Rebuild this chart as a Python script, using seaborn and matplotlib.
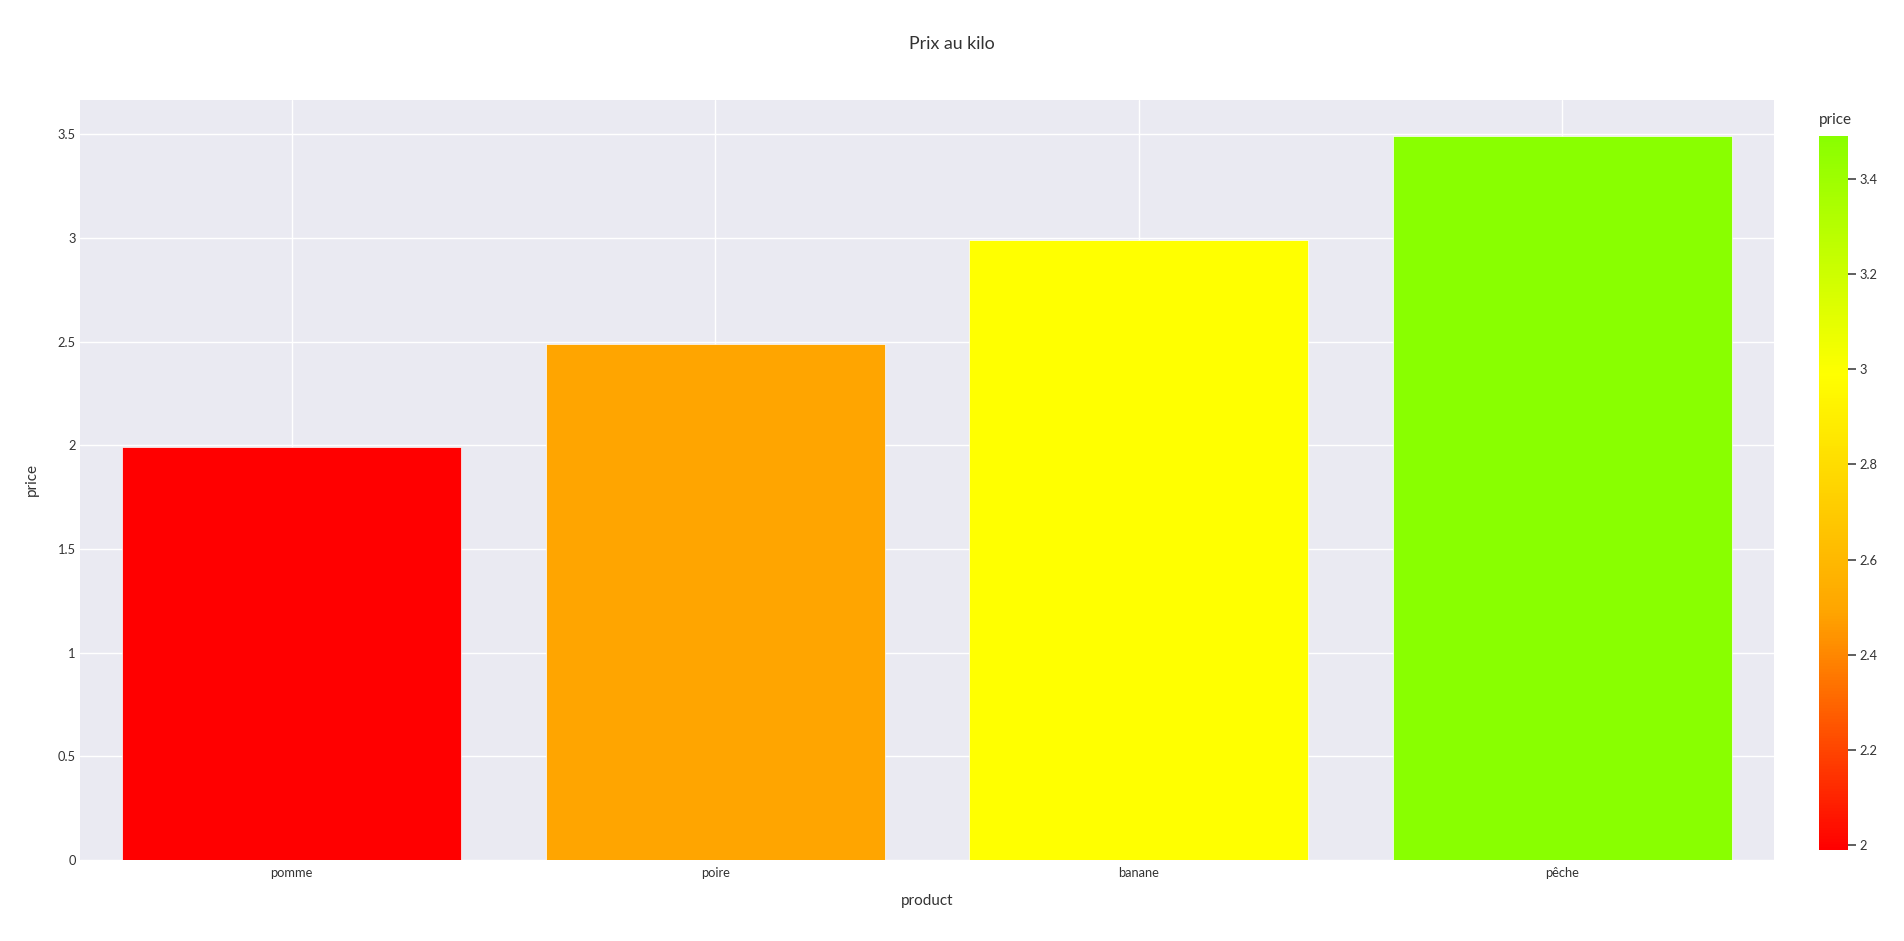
import numpy as np
import pandas as pd
import matplotlib
matplotlib.use("Agg")
import matplotlib.pyplot as plt
import seaborn as sns
from matplotlib.colors import LinearSegmentedColormap, Normalize
from matplotlib.cm import ScalarMappable

# data
products = ["pomme", "poire", "banane", "pêche"]
prices = [1.99, 2.49, 2.99, 3.49]
scale_colors = ["#FF0000", "#FFA500", "#FFFF00", "#89FF00"]

df = pd.DataFrame({"product": products, "price": prices})

sns.set_theme(style="darkgrid")
plt.rcParams["font.family"] = ["Lato", "DejaVu Sans"]
text_col = "#333333"

cmap = LinearSegmentedColormap.from_list("prix", scale_colors)
norm = Normalize(vmin=min(prices), vmax=max(prices))
palette = {p: cmap(norm(v)) for p, v in zip(products, prices)}

W, H = 1904, 941
fig = plt.figure(figsize=(W / 100, H / 100), dpi=100)
ax = fig.add_axes([80 / W, 1 - 860 / H, (1774 - 80) / W, (860 - 100) / H])

sns.barplot(data=df, x="product", y="price", hue="product", palette=palette,
            legend=False, width=0.8, saturation=1, edgecolor="white",
            linewidth=0.5, ax=ax)

ax.set_facecolor("#EAEAF2")
ax.set_xlim(-0.5, len(products) - 0.5)
ax.set_ylim(0, max(prices) * 1.05)
ax.set_yticks(np.arange(0, 3.6, 0.5))
ax.set_yticklabels(["0", "0.5", "1", "1.5", "2", "2.5", "3", "3.5"])
ax.grid(True, color="white", linewidth=1)
ax.set_axisbelow(True)
for s in ax.spines.values():
    s.set_visible(False)
ax.tick_params(axis="both", length=0, labelsize=9.3, colors=text_col)
ax.tick_params(axis="y", pad=3)
ax.tick_params(axis="x", pad=5)
ax.set_xlabel("product", fontsize=11, color=text_col, labelpad=11)
ax.set_ylabel("price", fontsize=11, color=text_col, labelpad=14)

fig.text(0.5, 1 - 44 / H, "Prix au kilo", ha="center", va="center",
         fontsize=12.8, color=text_col)

# colorbar
cax = fig.add_axes([1819 / W, 1 - 850 / H, 29 / W, (850 - 136) / H])
cb = fig.colorbar(ScalarMappable(norm=norm, cmap=cmap), cax=cax)
cb.outline.set_visible(False)
cb.set_ticks([2, 2.2, 2.4, 2.6, 2.8, 3, 3.2, 3.4])
cb.set_ticklabels(["2", "2.2", "2.4", "2.6", "2.8", "3", "3.2", "3.4"])
cax.tick_params(length=6, width=1.2, color="#444444", labelsize=9.3,
                labelcolor=text_col, pad=2)
fig.text(1819 / W, 1 - 120 / H, "price", ha="left", va="center",
         fontsize=11, color=text_col)

fig.savefig("out.png", dpi=100, facecolor="white")
